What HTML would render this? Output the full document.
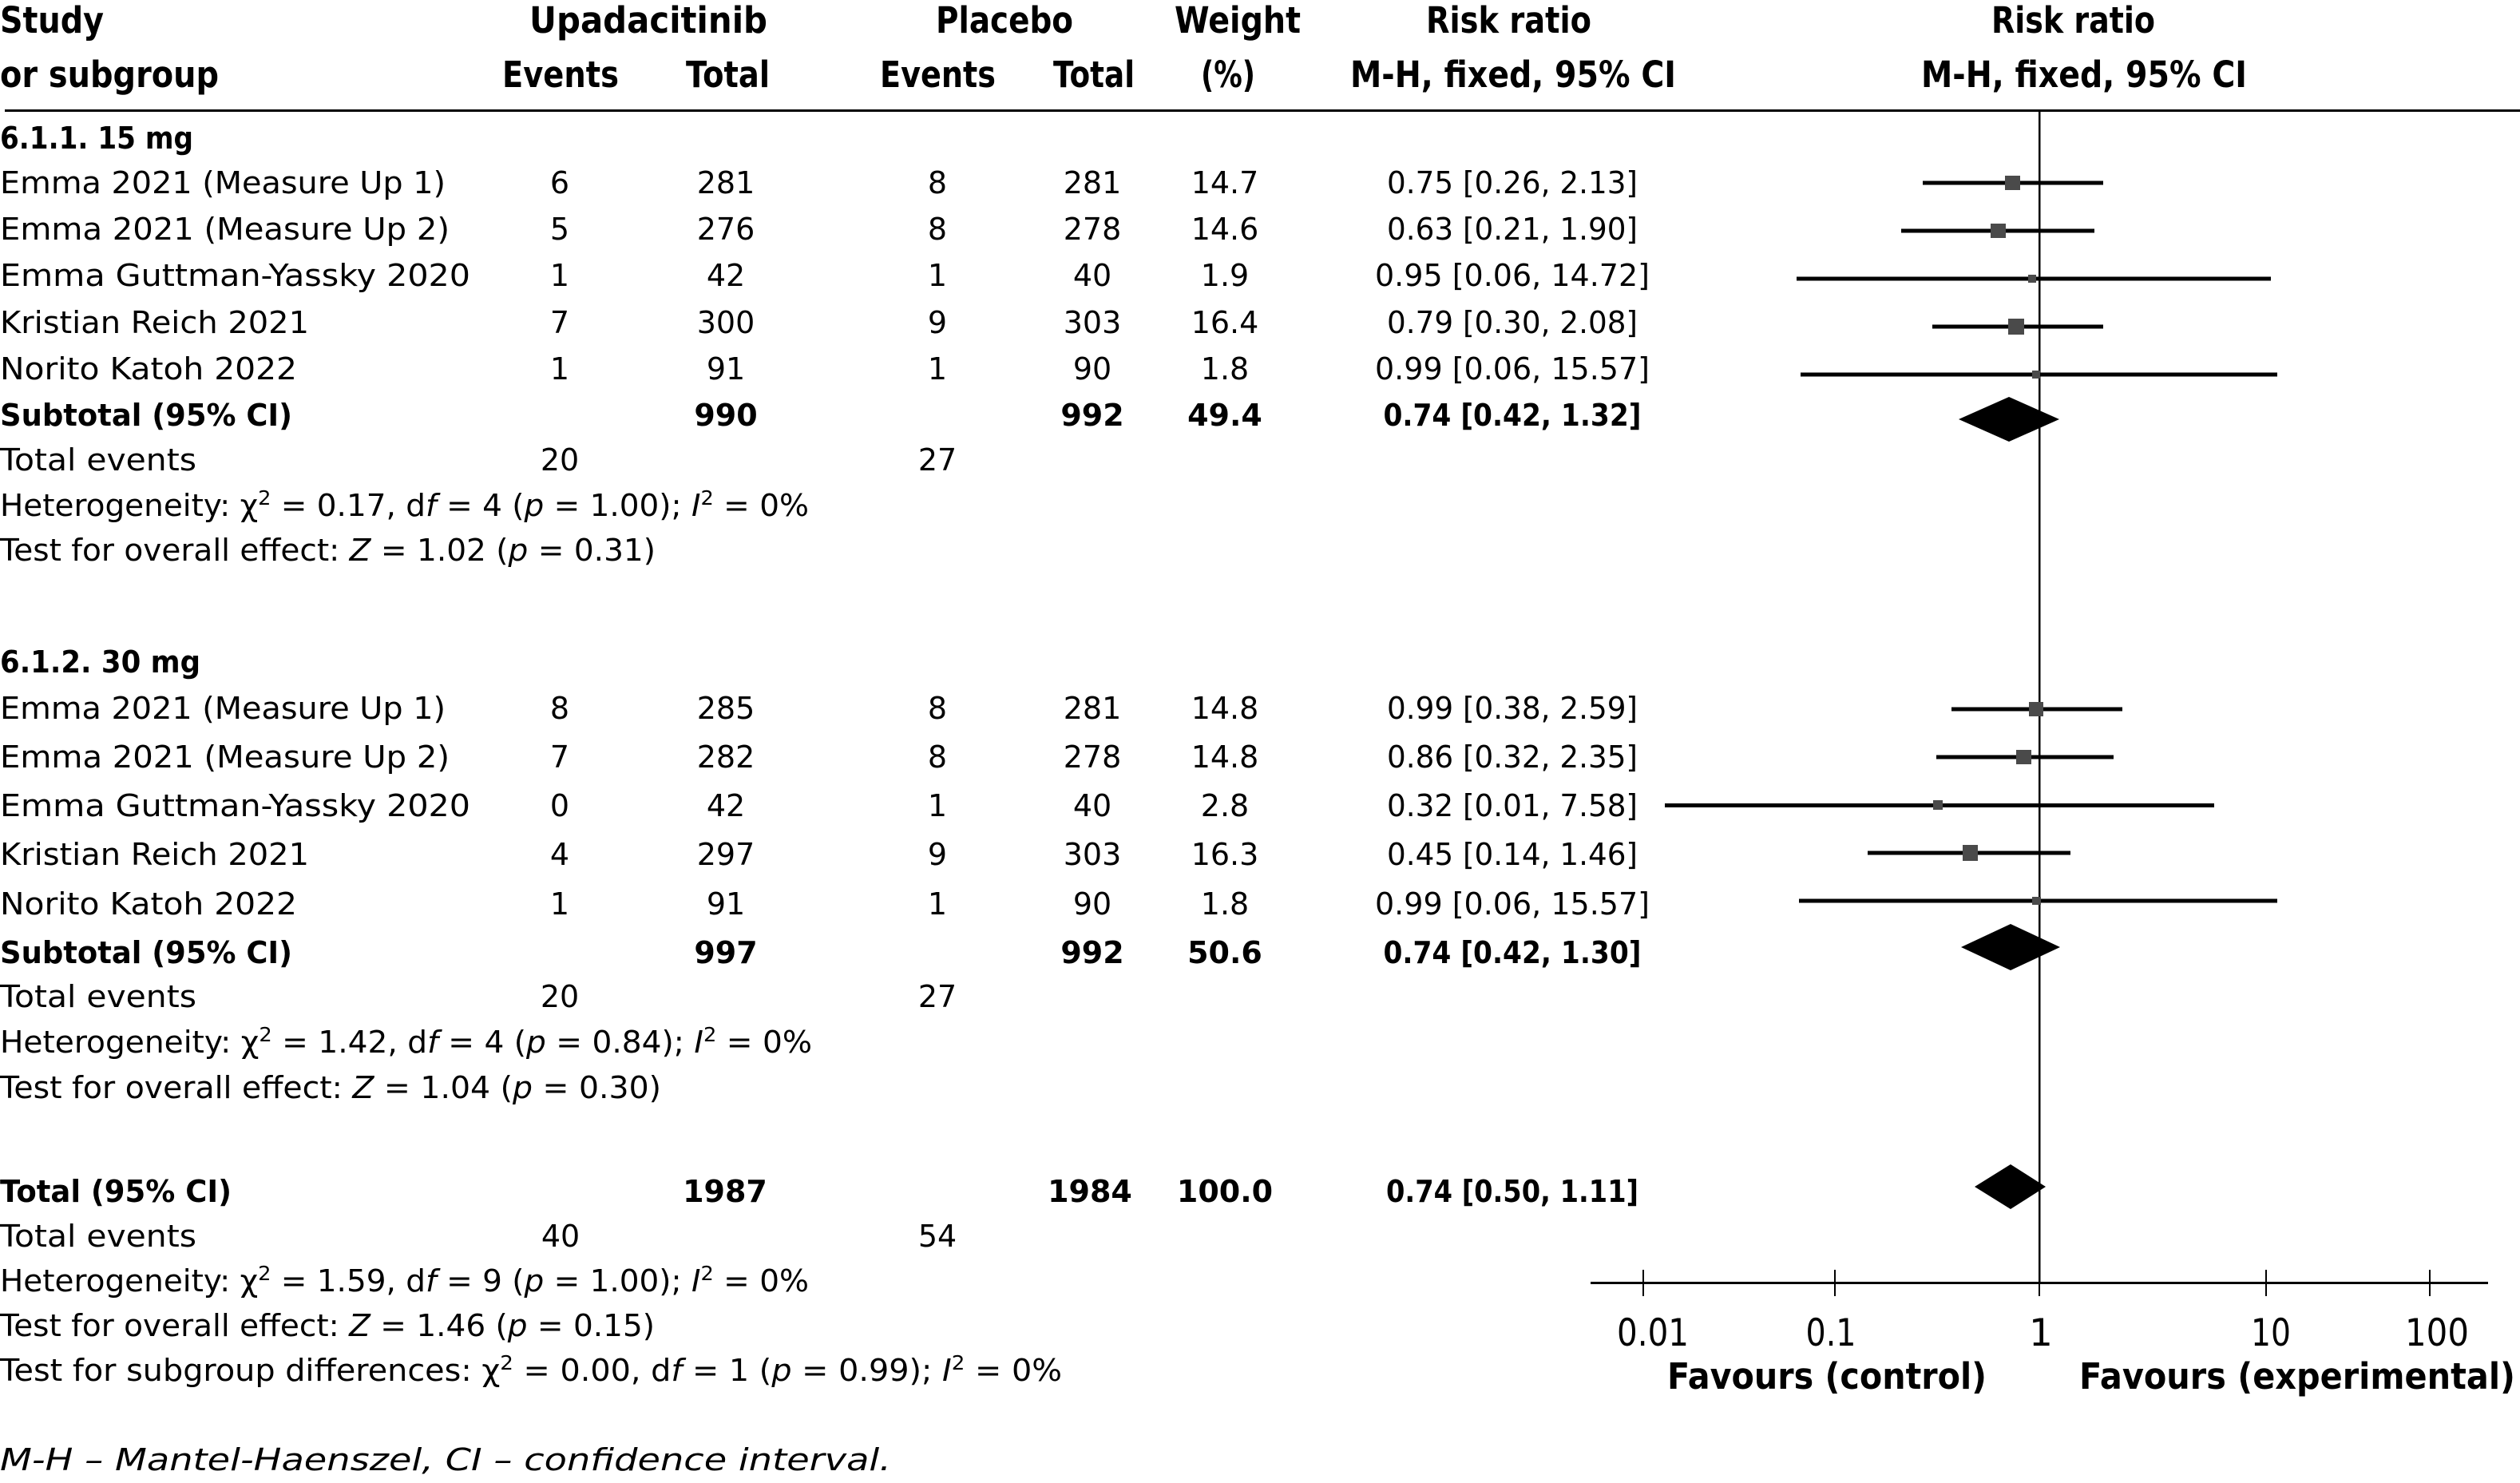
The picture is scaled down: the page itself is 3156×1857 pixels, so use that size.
<!DOCTYPE html>
<html>
<head>
<meta charset="utf-8">
<style>
html,body{margin:0;padding:0;background:#fff;}
svg{display:block;}
text{font-family:"DejaVu Sans","Liberation Sans",sans-serif;fill:#000;}
.b{font-weight:bold;}
.h{font-weight:bold;font-size:45px;}
.r{font-size:38px;}
.c{text-anchor:middle;}
.i{font-style:italic;}
</style>
</head>
<body>
<svg width="3156" height="1857" viewBox="0 0 3156 1857" xmlns="http://www.w3.org/2000/svg">
<rect x="0" y="0" width="3156" height="1857" fill="#fff"/>

<!-- Header -->
<text class="h" x="0" y="41" textLength="130" lengthAdjust="spacingAndGlyphs">Study</text>
<text class="h" x="0" y="109" textLength="274" lengthAdjust="spacingAndGlyphs">or subgroup</text>
<text class="h" x="663" y="41" textLength="298" lengthAdjust="spacingAndGlyphs">Upadacitinib</text>
<text class="h" x="629" y="109" textLength="146" lengthAdjust="spacingAndGlyphs">Events</text>
<text class="h" x="859" y="109" textLength="105" lengthAdjust="spacingAndGlyphs">Total</text>
<text class="h" x="1172" y="41" textLength="172" lengthAdjust="spacingAndGlyphs">Placebo</text>
<text class="h" x="1102" y="109" textLength="145" lengthAdjust="spacingAndGlyphs">Events</text>
<text class="h" x="1319" y="109" textLength="102" lengthAdjust="spacingAndGlyphs">Total</text>
<text class="h" x="1471" y="41" textLength="158" lengthAdjust="spacingAndGlyphs">Weight</text>
<text class="h" x="1504" y="109" textLength="68" lengthAdjust="spacingAndGlyphs">(%)</text>
<text class="h" x="1786" y="41" textLength="207" lengthAdjust="spacingAndGlyphs">Risk ratio</text>
<text class="h" x="1691" y="109" textLength="408" lengthAdjust="spacingAndGlyphs">M-H, fixed, 95% CI</text>
<text class="h" x="2494" y="41" textLength="205" lengthAdjust="spacingAndGlyphs">Risk ratio</text>
<text class="h" x="2406" y="109" textLength="408" lengthAdjust="spacingAndGlyphs">M-H, fixed, 95% CI</text>

<rect x="6" y="137" width="3150" height="3" fill="#000"/>

<!-- 15 mg group -->
<text class="r b" x="0" y="186" textLength="242" lengthAdjust="spacingAndGlyphs">6.1.1. 15 mg</text>

<g class="r">
<text x="0" y="242" textLength="558" lengthAdjust="spacingAndGlyphs">Emma 2021 (Measure Up 1)</text>
<text class="c" x="701" y="242">6</text><text class="c" x="909" y="242">281</text>
<text class="c" x="1174" y="242">8</text><text class="c" x="1368" y="242">281</text>
<text class="c" x="1534" y="242">14.7</text><text class="c" x="1894" y="242" textLength="314" lengthAdjust="spacingAndGlyphs">0.75 [0.26, 2.13]</text>

<text x="0" y="300" textLength="563" lengthAdjust="spacingAndGlyphs">Emma 2021 (Measure Up 2)</text>
<text class="c" x="701" y="300">5</text><text class="c" x="909" y="300">276</text>
<text class="c" x="1174" y="300">8</text><text class="c" x="1368" y="300">278</text>
<text class="c" x="1534" y="300">14.6</text><text class="c" x="1894" y="300" textLength="314" lengthAdjust="spacingAndGlyphs">0.63 [0.21, 1.90]</text>

<text x="0" y="358" textLength="589" lengthAdjust="spacingAndGlyphs">Emma Guttman-Yassky 2020</text>
<text class="c" x="701" y="358">1</text><text class="c" x="909" y="358">42</text>
<text class="c" x="1174" y="358">1</text><text class="c" x="1368" y="358">40</text>
<text class="c" x="1534" y="358">1.9</text><text class="c" x="1894" y="358" textLength="344" lengthAdjust="spacingAndGlyphs">0.95 [0.06, 14.72]</text>

<text x="0" y="417" textLength="387" lengthAdjust="spacingAndGlyphs">Kristian Reich 2021</text>
<text class="c" x="701" y="417">7</text><text class="c" x="909" y="417">300</text>
<text class="c" x="1174" y="417">9</text><text class="c" x="1368" y="417">303</text>
<text class="c" x="1534" y="417">16.4</text><text class="c" x="1894" y="417" textLength="314" lengthAdjust="spacingAndGlyphs">0.79 [0.30, 2.08]</text>

<text x="0" y="475" textLength="372" lengthAdjust="spacingAndGlyphs">Norito Katoh 2022</text>
<text class="c" x="701" y="475">1</text><text class="c" x="909" y="475">91</text>
<text class="c" x="1174" y="475">1</text><text class="c" x="1368" y="475">90</text>
<text class="c" x="1534" y="475">1.8</text><text class="c" x="1894" y="475" textLength="344" lengthAdjust="spacingAndGlyphs">0.99 [0.06, 15.57]</text>

<text class="b" x="0" y="533" textLength="366" lengthAdjust="spacingAndGlyphs">Subtotal (95% CI)</text>
<text class="b c" x="909" y="533">990</text><text class="b c" x="1368" y="533">992</text>
<text class="b c" x="1534" y="533">49.4</text>
<text class="b c" x="1894" y="533" textLength="323" lengthAdjust="spacingAndGlyphs">0.74 [0.42, 1.32]</text>

<text x="0" y="589" textLength="246" lengthAdjust="spacingAndGlyphs">Total events</text>
<text class="c" x="701" y="589">20</text><text class="c" x="1174" y="589">27</text>

<text x="0" y="646" textLength="1013" lengthAdjust="spacingAndGlyphs">Heterogeneity: χ<tspan dy="-14" font-size="25">2</tspan><tspan dy="14"> = 0.17, d</tspan><tspan class="i">f</tspan> = 4 (<tspan class="i">p</tspan> = 1.00); <tspan class="i">I</tspan><tspan dy="-14" font-size="25">2</tspan><tspan dy="14"> = 0%</tspan></text>
<text x="0" y="702" textLength="821" lengthAdjust="spacingAndGlyphs">Test for overall effect: <tspan class="i">Z</tspan> = 1.02 (<tspan class="i">p</tspan> = 0.31)</text>
</g>

<!-- 30 mg group -->
<text class="r b" x="0" y="842" textLength="251" lengthAdjust="spacingAndGlyphs">6.1.2. 30 mg</text>

<g class="r">
<text x="0" y="900" textLength="558" lengthAdjust="spacingAndGlyphs">Emma 2021 (Measure Up 1)</text>
<text class="c" x="701" y="900">8</text><text class="c" x="909" y="900">285</text>
<text class="c" x="1174" y="900">8</text><text class="c" x="1368" y="900">281</text>
<text class="c" x="1534" y="900">14.8</text><text class="c" x="1894" y="900" textLength="314" lengthAdjust="spacingAndGlyphs">0.99 [0.38, 2.59]</text>

<text x="0" y="961" textLength="563" lengthAdjust="spacingAndGlyphs">Emma 2021 (Measure Up 2)</text>
<text class="c" x="701" y="961">7</text><text class="c" x="909" y="961">282</text>
<text class="c" x="1174" y="961">8</text><text class="c" x="1368" y="961">278</text>
<text class="c" x="1534" y="961">14.8</text><text class="c" x="1894" y="961" textLength="314" lengthAdjust="spacingAndGlyphs">0.86 [0.32, 2.35]</text>

<text x="0" y="1022" textLength="589" lengthAdjust="spacingAndGlyphs">Emma Guttman-Yassky 2020</text>
<text class="c" x="701" y="1022">0</text><text class="c" x="909" y="1022">42</text>
<text class="c" x="1174" y="1022">1</text><text class="c" x="1368" y="1022">40</text>
<text class="c" x="1534" y="1022">2.8</text><text class="c" x="1894" y="1022" textLength="314" lengthAdjust="spacingAndGlyphs">0.32 [0.01, 7.58]</text>

<text x="0" y="1083" textLength="387" lengthAdjust="spacingAndGlyphs">Kristian Reich 2021</text>
<text class="c" x="701" y="1083">4</text><text class="c" x="909" y="1083">297</text>
<text class="c" x="1174" y="1083">9</text><text class="c" x="1368" y="1083">303</text>
<text class="c" x="1534" y="1083">16.3</text><text class="c" x="1894" y="1083" textLength="314" lengthAdjust="spacingAndGlyphs">0.45 [0.14, 1.46]</text>

<text x="0" y="1145" textLength="372" lengthAdjust="spacingAndGlyphs">Norito Katoh 2022</text>
<text class="c" x="701" y="1145">1</text><text class="c" x="909" y="1145">91</text>
<text class="c" x="1174" y="1145">1</text><text class="c" x="1368" y="1145">90</text>
<text class="c" x="1534" y="1145">1.8</text><text class="c" x="1894" y="1145" textLength="344" lengthAdjust="spacingAndGlyphs">0.99 [0.06, 15.57]</text>

<text class="b" x="0" y="1206" textLength="366" lengthAdjust="spacingAndGlyphs">Subtotal (95% CI)</text>
<text class="b c" x="909" y="1206">997</text><text class="b c" x="1368" y="1206">992</text>
<text class="b c" x="1534" y="1206">50.6</text>
<text class="b c" x="1894" y="1206" textLength="323" lengthAdjust="spacingAndGlyphs">0.74 [0.42, 1.30]</text>

<text x="0" y="1261" textLength="246" lengthAdjust="spacingAndGlyphs">Total events</text>
<text class="c" x="701" y="1261">20</text><text class="c" x="1174" y="1261">27</text>

<text x="0" y="1318" textLength="1017" lengthAdjust="spacingAndGlyphs">Heterogeneity: χ<tspan dy="-14" font-size="25">2</tspan><tspan dy="14"> = 1.42, d</tspan><tspan class="i">f</tspan> = 4 (<tspan class="i">p</tspan> = 0.84); <tspan class="i">I</tspan><tspan dy="-14" font-size="25">2</tspan><tspan dy="14"> = 0%</tspan></text>
<text x="0" y="1375" textLength="828" lengthAdjust="spacingAndGlyphs">Test for overall effect: <tspan class="i">Z</tspan> = 1.04 (<tspan class="i">p</tspan> = 0.30)</text>

<!-- Total -->
<text class="b" x="0" y="1505" textLength="290" lengthAdjust="spacingAndGlyphs">Total (95% CI)</text>
<text class="b c" x="908" y="1505">1987</text><text class="b c" x="1365" y="1505">1984</text>
<text class="b c" x="1534" y="1505">100.0</text>
<text class="b c" x="1894" y="1505" textLength="316" lengthAdjust="spacingAndGlyphs">0.74 [0.50, 1.11]</text>

<text x="0" y="1561" textLength="246" lengthAdjust="spacingAndGlyphs">Total events</text>
<text class="c" x="702" y="1561">40</text><text class="c" x="1174" y="1561">54</text>

<text x="0" y="1617" textLength="1013" lengthAdjust="spacingAndGlyphs">Heterogeneity: χ<tspan dy="-14" font-size="25">2</tspan><tspan dy="14"> = 1.59, d</tspan><tspan class="i">f</tspan> = 9 (<tspan class="i">p</tspan> = 1.00); <tspan class="i">I</tspan><tspan dy="-14" font-size="25">2</tspan><tspan dy="14"> = 0%</tspan></text>
<text x="0" y="1673" textLength="820" lengthAdjust="spacingAndGlyphs">Test for overall effect: <tspan class="i">Z</tspan> = 1.46 (<tspan class="i">p</tspan> = 0.15)</text>
<text x="0" y="1729" textLength="1330" lengthAdjust="spacingAndGlyphs">Test for subgroup differences: χ<tspan dy="-14" font-size="25">2</tspan><tspan dy="14"> = 0.00, d</tspan><tspan class="i">f</tspan> = 1 (<tspan class="i">p</tspan> = 0.99); <tspan class="i">I</tspan><tspan dy="-14" font-size="25">2</tspan><tspan dy="14"> = 0%</tspan></text>

<text class="i" x="0" y="1841" textLength="1116" lengthAdjust="spacingAndGlyphs">M-H – Mantel-Haenszel, CI – confidence interval.</text>
</g>

<!-- Forest plot -->
<rect x="2553" y="140" width="2.5" height="1466" fill="#000"/>

<g fill="#000">
<rect x="2408" y="226.5" width="226" height="5"/>
<rect x="2381" y="286.5" width="242" height="5"/>
<rect x="2250" y="346.5" width="594" height="5"/>
<rect x="2420" y="406.5" width="214" height="5"/>
<rect x="2255" y="466.5" width="597" height="5"/>
<rect x="2444" y="885.5" width="214" height="5"/>
<rect x="2425" y="945.5" width="222" height="5"/>
<rect x="2085" y="1006" width="688" height="5"/>
<rect x="2339" y="1065.5" width="254" height="5"/>
<rect x="2253" y="1125.5" width="599" height="5"/>
</g>

<g fill="#4a4a4a">
<rect x="2511" y="220" width="19" height="18"/>
<rect x="2493" y="280" width="19" height="18"/>
<rect x="2540" y="344" width="10" height="10"/>
<rect x="2515" y="399" width="20" height="20"/>
<rect x="2545" y="464" width="10" height="10"/>
<rect x="2541" y="879" width="18" height="18"/>
<rect x="2525" y="939" width="19" height="18"/>
<rect x="2421" y="1002" width="12" height="12"/>
<rect x="2458" y="1058" width="19" height="20"/>
<rect x="2545" y="1123" width="11" height="10"/>
</g>

<polygon points="2453,525 2516,497 2579,525 2516,553" fill="#000"/>
<polygon points="2456,1186 2518,1157 2580,1186 2518,1215" fill="#000"/>
<polygon points="2473,1486 2518,1458 2562,1486 2518,1514" fill="#000"/>

<!-- Axis -->
<rect x="1992" y="1605" width="1124" height="3" fill="#000"/>
<g fill="#000">
<rect x="2057" y="1590" width="2" height="33"/>
<rect x="2297" y="1590" width="2" height="33"/>
<rect x="2553" y="1590" width="2" height="33"/>
<rect x="2837" y="1590" width="2" height="33"/>
<rect x="3042" y="1590" width="2" height="33"/>
</g>
<g font-size="47">
<text class="c" x="2070" y="1685" textLength="90" lengthAdjust="spacingAndGlyphs">0.01</text>
<text class="c" x="2293" y="1685" textLength="63" lengthAdjust="spacingAndGlyphs">0.1</text>
<text class="c" x="2556" y="1685">1</text>
<text class="c" x="2844" y="1685" textLength="50" lengthAdjust="spacingAndGlyphs">10</text>
<text class="c" x="3052" y="1685" textLength="80" lengthAdjust="spacingAndGlyphs">100</text>
</g>
<text class="b" font-size="45" x="2088" y="1739" textLength="400" lengthAdjust="spacingAndGlyphs">Favours (control)</text>
<text class="b" font-size="45" x="2604" y="1739" textLength="546" lengthAdjust="spacingAndGlyphs">Favours (experimental)</text>
</svg>
</body>
</html>
